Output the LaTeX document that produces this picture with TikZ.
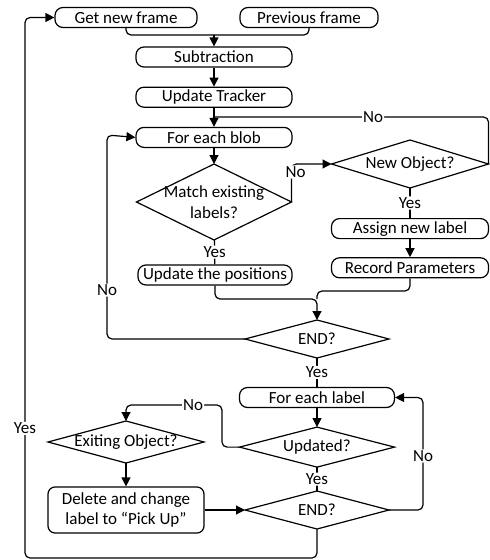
\documentclass[tikz,border=0pt]{standalone}
\usepackage{fontspec}
\setmainfont{Carlito}
\usetikzlibrary{arrows.meta,positioning,shapes.geometric}
\newcommand{\dtxt}[1]{\makebox[0pt]{#1}}
\tikzset{
  terminal/.style={
    rectangle, draw, rounded corners=8pt, line width=1.2pt,
    minimum width=156pt, minimum height=20pt, inner sep=0pt,
    font=\fontsize{17}{20}\selectfont
  },
  decision/.style={
    diamond, draw, line width=1.2pt, inner sep=0pt, outer sep=0pt,
    align=center, font=\fontsize{17}{21}\selectfont
  },
  line/.style={line width=1.2pt, rounded corners=5pt},
  arrow/.style={line, -{Triangle[length=9pt,width=9pt]}},
  lbl/.style={fill=white, inner sep=1pt, font=\fontsize{17}{20}\selectfont}
}

\begin{document}
\begin{tikzpicture}[x=1pt, y=-1pt, node distance=19pt]
  \useasboundingbox (0,0) rectangle (490,560);

  % Frame input and blob loop
  \node[terminal, minimum width=142pt] (getf) at (126,17.5) {Get new frame};
  \node[terminal, minimum width=138pt] (prevf) at (309,17.5) {Previous frame};
  \node[terminal] (subt) at (214,57) {Subtraction};
  \node[terminal, below=of subt] (updtr) {Update Tracker};
  \node[terminal, below=of updtr] (blob) {For each blob};
  \node[decision, minimum width=155pt, minimum height=76pt] (match) at (214,202)
    {\dtxt{Match existing}\\\dtxt{labels?}};
  \node[decision, minimum width=157pt, minimum height=48pt] (newobj) at (410,164)
    {\dtxt{New Object?}};
  \node[terminal, minimum width=157pt, below=30pt of newobj] (assign) {Assign new label};
  \node[terminal, minimum width=157pt, below=18pt of assign] (record) {Record Parameters};
  \node[terminal, minimum width=154pt] (updpos) at (215,275) {Update the positions};
  \node[decision, minimum width=144pt, minimum height=38pt] (end1) at (317,339) {\dtxt{END?}};

  % Label loop
  \node[terminal, minimum width=155pt] (eachlbl) at (317,397.5) {For each label};
  \node[decision, minimum width=155pt, minimum height=40pt, below=of eachlbl] (updated)
    {\dtxt{Updated?}};
  \node[decision, minimum width=156pt, minimum height=42pt] (exiting) at (126,442)
    {\dtxt{Exiting Object?}};
  \node[terminal, rounded corners=7pt, minimum height=46pt, align=center] (delete) at (126,510)
    {Delete and change\\label to ``Pick Up''};
  \node[decision, minimum width=144pt, minimum height=38pt] (end2) at (317,510) {\dtxt{END?}};

  % Top connections
  \coordinate (fmerge) at (214,35);
  \draw[line] (getf.south) |- (fmerge);
  \draw[line] (prevf.south) |- (fmerge);
  \draw[arrow] (fmerge) -- (subt.north);
  \draw[arrow] (subt) -- (updtr);
  \draw[arrow] (updtr) -- (blob);
  \coordinate (tjoin) at (214,117);
  \draw[line] (newobj.east) |- node[lbl, pos=0.71] {No} (tjoin);

  % Blob matching
  \draw[arrow] (blob) -- (match);
  \draw[arrow] (match.east) |- node[lbl, pos=0.5, xshift=4pt, yshift=-8pt] {No} (newobj.west);
  \draw[line] (newobj) -- node[lbl] {Yes} (assign);
  \draw[arrow] (assign) -- (record);
  \draw[line] (match) -- node[lbl] {Yes} (updpos);
  \coordinate (pmerge) at (317,299);
  \coordinate (rmerge) at (317,291);
  \draw[arrow] (updpos.south) |- (pmerge) -- (end1.north);
  \draw[line] (record.south) |- (rmerge) -- (pmerge);
  \coordinate (bloop) at (107,135);
  \draw[arrow] (end1.west) -| node[lbl, pos=0.62] {No} (bloop) -- (blob.west);

  % Label checking
  \draw[line] (end1) -- node[lbl] {Yes} (eachlbl);
  \draw[arrow] (eachlbl) -- (updated);
  \coordinate (uturn) at (222,405);
  \draw[arrow] (updated.west) -| (uturn) -| node[lbl, pos=0.15] {No} (exiting.north);
  \draw[arrow] (exiting) -- (delete);
  \draw[arrow] (delete) -- (end2);
  \draw[line] (updated) -- node[lbl] {Yes} (end2);
  \coordinate (lloop) at (423,397.5);
  \draw[arrow] (end2.east) -| node[lbl, pos=0.74] {No} (lloop) -- (eachlbl.east);
  \coordinate (yloop) at (25,558);
  \draw[arrow] (end2.south) |- (yloop) |- node[lbl, pos=0.12] {Yes} (getf.west);

\end{tikzpicture}
\end{document}
